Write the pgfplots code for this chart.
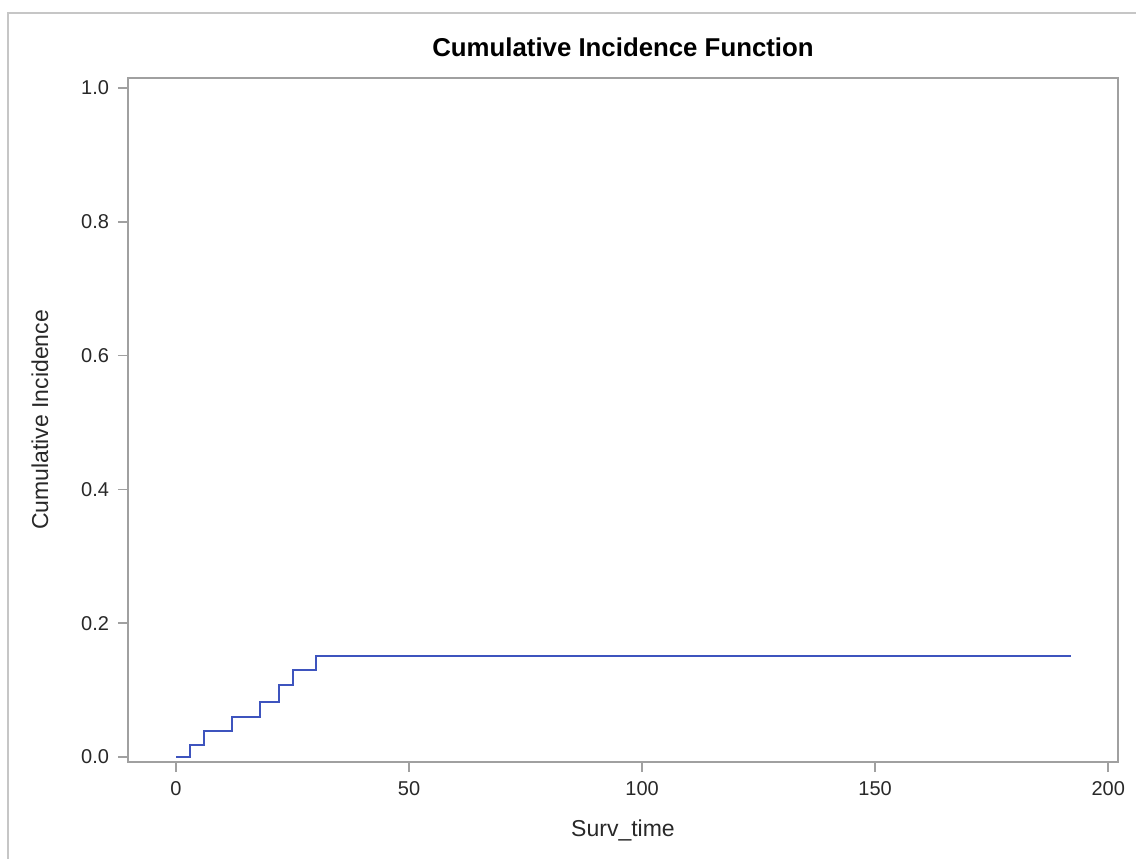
\documentclass[border=0pt]{standalone}
\usepackage{fontspec}
\setmainfont{Liberation Sans}
\usepackage{pgfplots}
\pgfplotsset{compat=1.18}
\definecolor{cifblue}{RGB}{62,84,190}
\definecolor{framegray}{RGB}{160,160,160}
\definecolor{txtgray}{RGB}{40,40,40}

\begin{document}
\begin{tikzpicture}
  % page extent and outer panel border (1px = 0.5bp)
  \useasboundingbox (-64bp,-48.5bp) rectangle (504bp,381bp);
  \draw[framegray!60, line width=0.8bp] (-60bp,-48.5bp) -- (-60bp,374.5bp) -- (504bp,374.5bp);
  \begin{axis}[
    at={(0,0)}, anchor=south west,
    scale only axis,
    width=495bp, height=342bp,
    xmin=-10.3, xmax=202.1,
    ymin=-0.0075, ymax=1.015,
    xtick={0,50,100,150,200},
    ytick={0,0.2,0.4,0.6,0.8,1.0},
    yticklabel style={/pgf/number format/fixed, /pgf/number format/fixed zerofill, /pgf/number format/precision=1},
    /pgf/number format/assume math mode=true,
    axis line style={framegray, line width=0.8bp},
    tick style={framegray, line width=0.8bp},
    tick align=outside,
    major tick length=5bp,
    xtick pos=bottom, ytick pos=left,
    ticklabel style={font=\fontsize{10bp}{12bp}\selectfont, text=txtgray},
    xticklabel style={anchor=north, yshift=-1bp},
    yticklabel style={anchor=east, xshift=-1bp},
    title={\textbf{Cumulative Incidence Function}},
    title style={font=\fontsize{12.9bp}{15bp}\selectfont, at={(0.5,1)}, anchor=center, yshift=9.5bp},
    xlabel={Surv\_time},
    ylabel={Cumulative Incidence},
    label style={font=\fontsize{11.5bp}{13bp}\selectfont, text=txtgray},
    xlabel style={at={(0.5,0)}, anchor=center, yshift=-34bp},
    ylabel style={at={(0,0.5)}, anchor=center, yshift=44bp},
  ]
    \addplot[const plot, cifblue, line width=1bp] coordinates {
      (0,0) (3,0.018) (6,0.039) (12,0.060) (18,0.082) (22,0.107) (25,0.130) (30,0.151) (192,0.151)
    };
  \end{axis}
\end{tikzpicture}
\end{document}
